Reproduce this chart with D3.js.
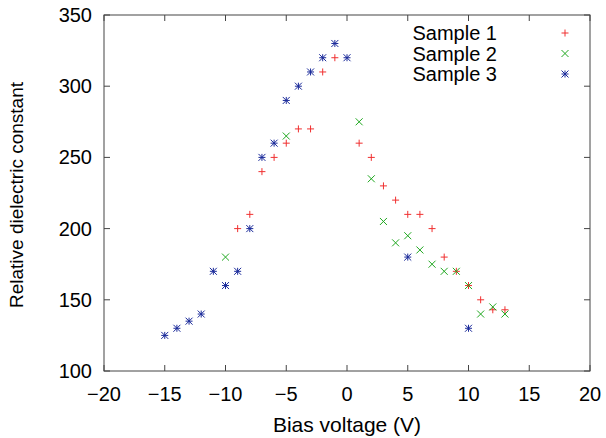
<!DOCTYPE html>
<html>
<head>
<meta charset="utf-8">
<script src="https://cdn.jsdelivr.net/npm/d3@7"></script>
<style>
  body { margin: 0; background: #fff; }
  text { font-family: "Liberation Sans", Arial, sans-serif; }
</style>
</head>
<body>
<div id="chart"></div>
<script>
var width = 606,
    height = 438;

// data
var s1x = [-9, -8, -7, -6, -5, -4, -3, -2, -1, 1, 2, 3, 4, 5, 6, 7, 8, 9, 10, 11, 12, 13];
var s1y = [200, 210, 240, 250, 260, 270, 270, 310, 320, 260, 250, 230, 220, 210, 210, 200, 180, 170, 160, 150, 143, 143];

var s2x = [-10, -5, 1, 2, 3, 4, 5, 6, 7, 8, 9, 10, 11, 12, 13];
var s2y = [180, 265, 275, 235, 205, 190, 195, 185, 175, 170, 170, 160, 140, 145, 140];

var s3x = [-15, -14, -13, -12, -11, -10, -9, -8, -7, -6, -5, -4, -3, -2, -1, 0, 5, 10];
var s3y = [125, 130, 135, 140, 170, 160, 170, 200, 250, 260, 290, 300, 310, 320, 330, 320, 180, 130];

var xTicks = [-20, -15, -10, -5, 0, 5, 10, 15, 20];
var yTicks = [100, 150, 200, 250, 300, 350];
var names = ["Sample 1", "Sample 2", "Sample 3"];
var colors = ["#f03030", "#20a820", "#1a2a9a"];
var shapes = ["plus", "cross", "star"];

var margin = {left: 104, right: 16, top: 15, bottom: 67};

var svg = d3.select("#chart").append("svg")
    .attr("width", width)
    .attr("height", height);

var x = d3.scaleLinear().domain([-20, 20]).range([margin.left, width - margin.right]);
var y = d3.scaleLinear().domain([100, 350]).range([height - margin.bottom, margin.top]);

var x0 = x.range()[0], x1 = x.range()[1], y0 = y.range()[0], y1 = y.range()[1];

// ticks, gnuplot style (inward, mirrored)
var tl = 6;
var g = svg.append("g").attr("stroke", "#444").attr("stroke-width", 1);
xTicks.forEach(function(t) {
  g.append("line").attr("x1", x(t)).attr("x2", x(t)).attr("y1", y0).attr("y2", y0 - tl);
  g.append("line").attr("x1", x(t)).attr("x2", x(t)).attr("y1", y1).attr("y2", y1 + tl);
});
yTicks.forEach(function(t) {
  g.append("line").attr("x1", x0).attr("x2", x0 + tl).attr("y1", y(t)).attr("y2", y(t));
  g.append("line").attr("x1", x1).attr("x2", x1 - tl).attr("y1", y(t)).attr("y2", y(t));
});
svg.append("rect")
    .attr("x", x0).attr("y", y1)
    .attr("width", x1 - x0).attr("height", y0 - y1)
    .attr("fill", "none").attr("stroke", "#444");

// tick labels
svg.selectAll(".xl").data(xTicks).enter().append("text")
    .attr("x", d => x(d)).attr("y", y0 + 30)
    .attr("text-anchor", "middle").attr("font-size", 20)
    .text(d => d < 0 ? "\u2212" + Math.abs(d) : d);

svg.selectAll(".yl").data(yTicks).enter().append("text")
    .attr("x", x0 - 12).attr("y", d => y(d) + 7)
    .attr("text-anchor", "end").attr("font-size", 20)
    .text(d => d);

svg.append("text")
    .attr("x", (x0 + x1) / 2).attr("y", 432)
    .attr("text-anchor", "middle").attr("font-size", 21)
    .text("Bias voltage (V)");

svg.append("text")
    .attr("transform", "translate(23," + ((y0 + y1) / 2 + 2) + ") rotate(-90)")
    .attr("text-anchor", "middle").attr("font-size", 19)
    .text("Relative dielectric constant");

// point symbols
var r = 3.5;
function marker(sel, shape, color) {
  sel.attr("stroke", color).attr("stroke-width", 1).attr("fill", "none");
  var p = "";
  if (shape == "plus" || shape == "star") p += "M" + (-r) + ",0H" + r + "M0," + (-r) + "V" + r;
  if (shape == "cross" || shape == "star") p += "M" + (-r) + "," + (-r) + "L" + r + "," + r + "M" + (-r) + "," + r + "L" + r + "," + (-r);
  sel.attr("d", p);
}

var series = [[s1x, s1y], [s2x, s2y], [s3x, s3y]];
series.forEach(function(s, i) {
  var pts = s[0].map((v, j) => [v, s[1][j]]);
  svg.append("g").selectAll("path").data(pts).enter().append("path")
      .attr("transform", d => "translate(" + x(d[0]) + "," + y(d[1]) + ")")
      .call(marker, shapes[i], colors[i]);
});

// legend
names.forEach(function(n, i) {
  var ly = 33 + i * 20.5;
  svg.append("text")
      .attr("x", 497).attr("y", ly + 7)
      .attr("text-anchor", "end").attr("font-size", 20)
      .text(n);
  svg.append("path")
      .attr("transform", "translate(565," + ly + ")")
      .call(marker, shapes[i], colors[i]);
});
</script>
</body>
</html>
